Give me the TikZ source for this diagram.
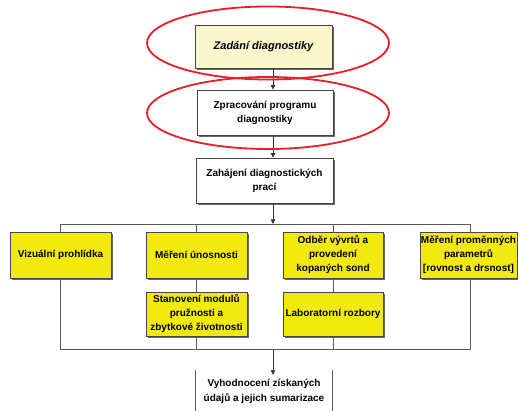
\documentclass[tikz,border=0pt]{standalone}
\usepackage{fontspec}
\setmainfont{Liberation Sans}
\usetikzlibrary{arrows.meta,shadows,shapes.geometric,backgrounds}
\definecolor{boxyellow}{RGB}{242,234,14}
\definecolor{paleyellow}{RGB}{250,247,204}
\definecolor{ringred}{RGB}{230,30,40}
\definecolor{edgegray}{RGB}{70,70,70}
\definecolor{linegray}{RGB}{90,90,90}
\tikzset{
  box/.style={draw=edgegray, line width=0.8pt, align=center, inner sep=1pt,
    font=\fontsize{10}{14}\selectfont\bfseries,
    general shadow={fill=gray!80!black, shadow xshift=1.6pt, shadow yshift=-1.6pt}},
  ybox/.style={box, fill=boxyellow},
  wbox/.style={box, fill=white},
  conn/.style={draw=linegray, line width=0.8pt},
  arr/.style={conn, -{Triangle[length=4.5pt,width=4.5pt]}, draw=black!80},
  ring/.style={draw=ringred, line width=1.8pt, ellipse, inner sep=0pt}
}
\begin{document}
\begin{tikzpicture}[x=1pt,y=-1pt]
\useasboundingbox (0,0) rectangle (518,411);
% top chain
\node[box, fill=paleyellow, minimum width=137pt, minimum height=43pt,
  font=\fontsize{11}{14}\selectfont\bfseries\itshape] (b1) at (263.5,46.5) {Zadání diagnostiky};
\node[wbox, minimum width=136pt, minimum height=45pt] (b2) at (265,112.5) {Zpracování programu\\diagnostiky};
\node[wbox, minimum width=137pt, minimum height=45pt] (b3) at (264.5,180.5) {Zahájení diagnostických\\prací};
% column boxes
\node[ybox, minimum width=101pt, minimum height=46pt] (va) at (60.5,255) {Vizuální prohlídka};
\node[ybox, minimum width=101pt, minimum height=46pt] (mu) at (196.5,255) {Měření únosnosti};
\node[ybox, minimum width=100pt, minimum height=46pt] (od) at (333,255) {Odběr vývrtů a\\provedení\\kopaných sond};
\node[ybox, minimum width=97pt, minimum height=46pt] (mp) at (468.5,255) {Měření proměnných\\parametrů\\{[}rovnost a drsnost{]}};
\node[ybox, minimum width=101pt, minimum height=44pt] (sm) at (196.5,314) {Stanovení modulů\\pružnosti a\\zbytkové životnosti};
\node[ybox, minimum width=100pt, minimum height=44pt] (lr) at (333,314) {Laboratorní rozbory};
% final box
\node[align=center, minimum width=136pt, minimum height=42pt, inner sep=1pt,
  font=\fontsize{10}{15}\selectfont\bfseries] (vy) at (264,391) {Vyhodnocení získaných\\údajů a jejich sumarizace};
% coordinates of the distribution bus
\coordinate (ha) at (273,224);
\coordinate (hb) at (273,349.5);
\coordinate (tl) at (60.5,224);
\coordinate (tr) at (470,224);
\coordinate (bl) at (60.5,349.5);
\coordinate (br) at (470,349.5);
\begin{pgfonlayer}{background}
  \draw[conn] (tl) -- (tr);
  \draw[conn] (bl) -- (br);
  \draw[conn] (tl) -- (bl);
  \draw[conn] (tr) -- (br);
  \draw[conn] (mu.north |- tl) -- (mu.north |- bl);
  \draw[conn] (od.north |- tl) -- (od.north |- bl);
\end{pgfonlayer}
% arrows
\draw[arr] (b1.south -| ha) -- (b2.north -| ha);
\draw[arr] (b2.south -| ha) -- (b3.north -| ha);
\draw[arr] (b3.south -| ha) -- (ha);
\draw[arr] (hb) -- ([yshift=-5pt]vy.north -| hb);
% final box sides (bottom cut off)
\draw[conn] (vy.north west) -- ++(0,45);
\draw[conn] (vy.north east) -- ++(0,45);
% red highlight rings
\node[ring, minimum width=242pt, minimum height=73pt] (r1) at (268,43) {};
\node[ring, minimum width=242pt, minimum height=72pt] (r2) at (268,113) {};
\end{tikzpicture}
\end{document}
